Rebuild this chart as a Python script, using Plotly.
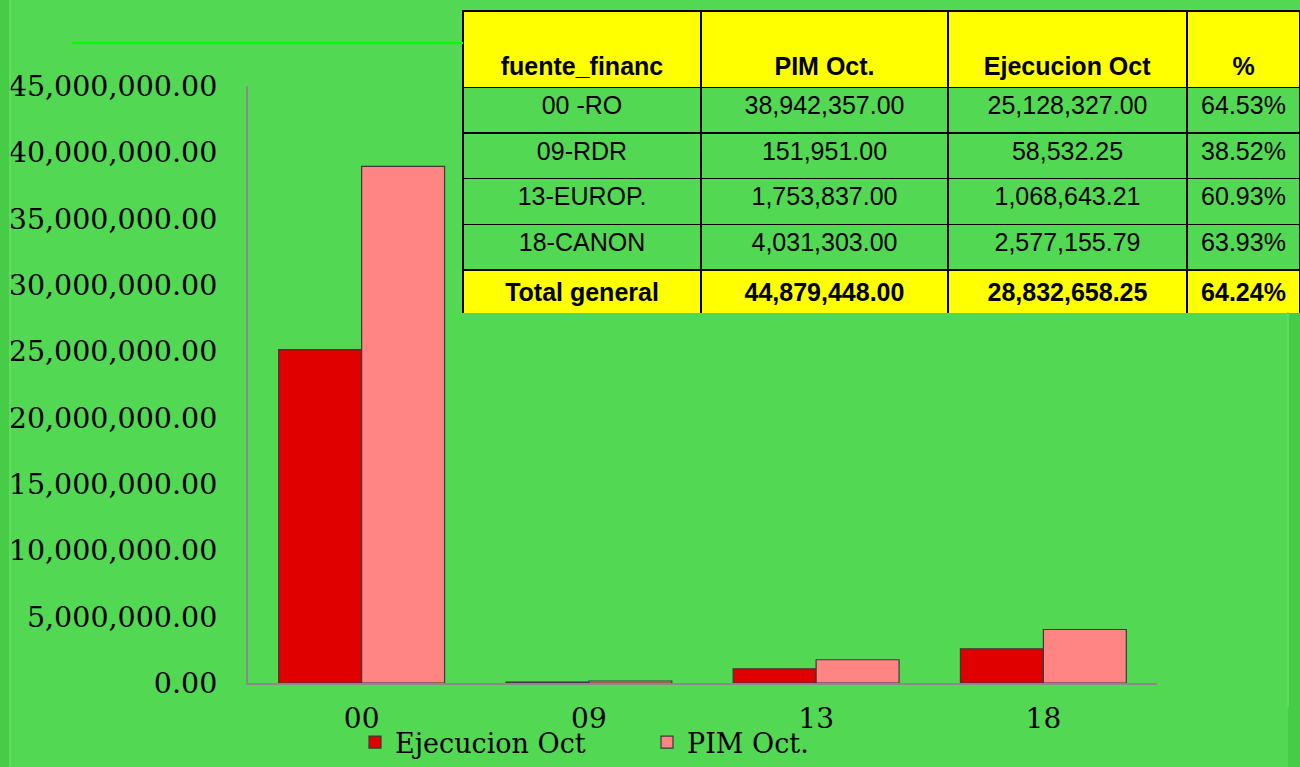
import plotly.graph_objects as go

# data
fuente = ['00 -RO', '09-RDR', '13-EUROP.', '18-CANON']
codigos = ['00', '09', '13', '18']
pim_oct = [38942357.00, 151951.00, 1753837.00, 4031303.00]
ejec_oct = [25128327.00, 58532.25, 1068643.21, 2577155.79]
pct = ['64.53%', '38.52%', '60.93%', '63.93%']
total_label = 'Total general'
total_pim = 44879448.00
total_ejec = 28832658.25
total_pct = '64.24%'

# style
bg = '#52D852'
red = '#E00000'
pink = '#FF8585'
yellow = '#FFFF00'
W, H = 1300, 767

fig = go.Figure()

fig.add_bar(x=codigos, y=ejec_oct, name='Ejecucion Oct',
            marker=dict(color=red, line=dict(color='#3a3a3a', width=1.2)))
fig.add_bar(x=codigos, y=pim_oct, name='PIM Oct.',
            marker=dict(color=pink, line=dict(color='#3a3a3a', width=1.2)))

# table
col1 = fuente + ['<b>' + total_label + '</b>']
col2 = ['{:,.2f}'.format(v) for v in pim_oct] + ['<b>{:,.2f}</b>'.format(total_pim)]
col3 = ['{:,.2f}'.format(v) for v in ejec_oct] + ['<b>{:,.2f}</b>'.format(total_ejec)]
col4 = pct + ['<b>' + total_pct + '</b>']
row_fill = [bg] * len(fuente) + [yellow]

fig.add_trace(go.Table(
    domain=dict(x=[463 / W, 1], y=[(H - 314) / H, (H - 11) / H]),
    columnwidth=[238, 247, 239, 113],
    header=dict(
        values=[' <br><b>fuente_financ</b>', ' <br><b>PIM Oct.</b>',
                ' <br><b>Ejecucion Oct</b>', ' <br><b>%</b>'],
        fill_color=yellow, line=dict(color='black', width=1.5),
        font=dict(family='Liberation Sans', size=25, color='black'),
        align='center', height=73),
    cells=dict(
        values=[col1, col2, col3, col4],
        fill_color=[row_fill] * 4, line=dict(color='black', width=1.5),
        font=dict(family='Liberation Sans', size=25, color='black'),
        align='center', height=45.6),
))

fig.update_layout(
    width=W, height=H,
    paper_bgcolor=bg, plot_bgcolor=bg,
    margin=dict(l=0, r=0, t=0, b=0),
    barmode='group', bargap=0.27, bargroupgap=0,
    showlegend=True,
    legend=dict(orientation='h', x=355 / W, y=0,
                xanchor='left', yanchor='bottom', entrywidth=247,
                font=dict(family='DejaVu Serif', size=27, color='black'),
                bgcolor='rgba(0,0,0,0)'),
    xaxis=dict(domain=[248 / W, 1157 / W], showline=True, linecolor='#8a8a8a',
               linewidth=2, showgrid=False, ticks='outside', ticklen=9,
               tickcolor='rgba(0,0,0,0)', automargin=False,
               tickfont=dict(family='DejaVu Serif', size=28, color='black')),
    yaxis=dict(domain=[(H - 683) / H, (H - 86) / H], range=[0, 45000000],
               dtick=5000000, tickformat=',.2f', showline=True,
               linecolor='#8a8a8a', linewidth=2, showgrid=False,
               zeroline=False, ticks='outside', ticklen=23,
               tickcolor='rgba(0,0,0,0)', automargin=False,
               tickfont=dict(family='DejaVu Serif', size=28.5, color='black')),
    shapes=[
        # slide decorations
        dict(type='line', xref='paper', yref='paper', x0=72 / W, x1=463 / W,
             y0=(H - 43) / H, y1=(H - 43) / H, line=dict(color='#00FF00', width=2)),
        dict(type='rect', xref='paper', yref='paper', x0=0, x1=10 / W, y0=0, y1=1,
             fillcolor='#47CC47', line=dict(width=0), layer='below'),
        dict(type='line', xref='paper', yref='paper', x0=10 / W, x1=10 / W, y0=0, y1=1,
             line=dict(color='#66E066', width=1.5)),
        dict(type='rect', xref='paper', yref='paper', x0=1288 / W, x1=1, y0=0,
             y1=(H - 312) / H, fillcolor='#47CC47', line=dict(width=0), layer='below'),
        dict(type='line', xref='paper', yref='paper', x0=1288 / W, x1=1288 / W,
             y0=60 / H, y1=(H - 312) / H, line=dict(color='#66E066', width=1.5)),
    ],
)

fig.write_html('out.html', config={'displayModeBar': False},
               post_script="document.body.style.margin='0';")
